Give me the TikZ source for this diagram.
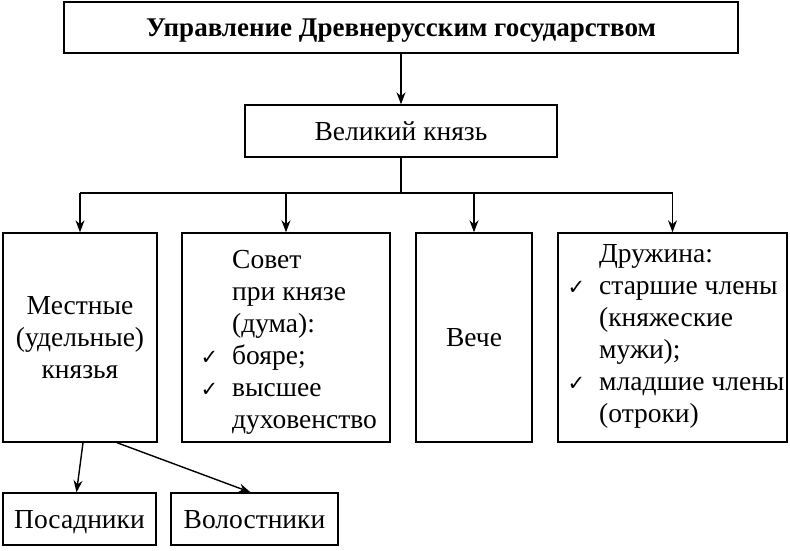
\documentclass[tikz,border=0pt]{standalone}
\usepackage{fontspec}
\setmainfont{Liberation Serif}
\newfontfamily\ckfont{DejaVu Sans}
\usetikzlibrary{arrows.meta, positioning}

\newcommand{\ck}{\llap{{\ckfont\fontsize{21}{21}\selectfont ✓}\hspace{14pt}}}

\begin{document}
\begin{tikzpicture}[x=1pt, y=-1pt,
    every node/.style = {font=\fontsize{27.5}{32}\selectfont, inner sep=0pt},
    box/.style = {draw, rectangle, line width=1.4pt, text height=22pt, text depth=4pt},
    link/.style = {-{Stealth[length=12pt, width=9pt]}, line width=1.4pt}
    ]
    \useasboundingbox (0,0) rectangle (790,550);

    % top levels
    \node[box, minimum width=674pt, minimum height=51pt,
        font=\bfseries\fontsize{27}{30}\selectfont] (gov) at (401,27.5)
        {Управление Древнерусским государством};
    \node[box, minimum width=312pt, minimum height=52pt] (vel) at (401,131) {Великий князь};
    \coordinate (split) at (401,193);

    % middle row
    \node[box, minimum width=154pt, minimum height=209pt] (mest) at (80,337.5) {};
    \node[box, minimum width=208pt, minimum height=209pt] (sovet) at (286,337.5) {};
    \node[box, minimum width=116pt, minimum height=209pt] (veche) at (474,337.5) {Вече};
    \node[box, minimum width=229pt, minimum height=209pt] (druzh) at (672.5,337.5) {};

    \node[align=center] (mesttxt) at (mest.center) {Местные\\(удельные)\\князья};
    \node[align=left, anchor=west] (sovettxt) at (232,342)
        {Совет\\при князе\\(дума):\\\ck бояре;\\\ck высшее\\духовенство};
    \node[align=left, anchor=west] (druzhtxt) at (599,336)
        {Дружина:\\\ck старшие члены\\(княжеские\\мужи);\\\ck младшие члены\\(отроки)};

    % bottom row
    \node[box, minimum width=153pt, minimum height=52pt] (posad) at (79.5,519) {Посадники};
    \node[box, minimum width=167pt, minimum height=52pt] (volost) at (254.5,519) {Волостники};

    % connectors
    \draw[link] (gov) -- (vel);
    \draw[line width=1.4pt] (vel) -- (split);
    \draw[line width=1.4pt] (mest.north |- split) -- (druzh.north |- split);
    \foreach \n in {mest, sovet, veche, druzh}
        \draw[link] (\n.north |- split) -- (\n.north);
    \draw[link] ([xshift=3pt]mest.south) -- ([xshift=-3pt]posad.north);
    \draw[link] ([xshift=37pt]mest.south) -- ([xshift=-4pt]volost.north);
\end{tikzpicture}
\end{document}
